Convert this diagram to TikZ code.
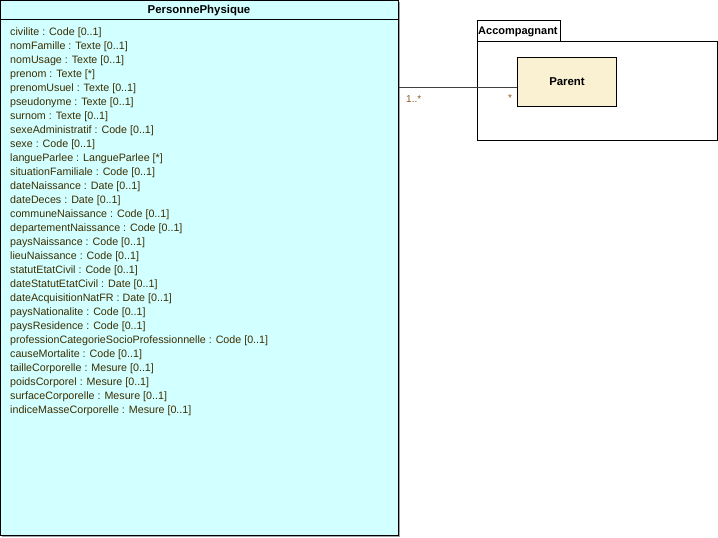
\documentclass[tikz,border=0pt]{standalone}
\usepackage{fontspec}
\setmainfont{Liberation Sans}
\definecolor{classfill}{HTML}{D2FFFF}
\definecolor{rolefill}{HTML}{FAF0D2}
\definecolor{attrtext}{HTML}{3C2E00}
\definecolor{multtext}{HTML}{8A5A20}
\definecolor{shadowgrey}{HTML}{A0A0A0}
\definecolor{linkgrey}{HTML}{404040}
\tikzset{
  x=1pt, y=-1pt,
  attr/.style={anchor=west, inner sep=0pt, text=attrtext, font=\fontsize{10.7}{12}\selectfont},
  mult/.style={anchor=west, inner sep=0pt, text=multtext, font=\fontsize{10}{12}\selectfont},
  title/.style={inner sep=0pt, font=\bfseries\fontsize{11.4}{13}\selectfont},
}
\begin{document}
\begin{tikzpicture}
\useasboundingbox (0,0) rectangle (718,538);
% class box with drop shadow
\fill[shadowgrey] (2,2) rectangle (400,537);
\draw[fill=classfill, line width=1pt] (0.5,0.5) rectangle (398,535);
\draw[line width=1pt] (0.5,19) -- (398,19);
\node[title] (pp) at (199,10.5) {PersonnePhysique};
% attributes
\foreach \t [count=\i from 0] in {
  civilite : Code [0..1],
  nomFamille : Texte [0..1],
  nomUsage : Texte [0..1],
  prenom : Texte [*],
  prenomUsuel : Texte [0..1],
  pseudonyme : Texte [0..1],
  surnom : Texte [0..1],
  sexeAdministratif : Code [0..1],
  sexe : Code [0..1],
  langueParlee : LangueParlee [*],
  situationFamiliale : Code [0..1],
  dateNaissance : Date [0..1],
  dateDeces : Date [0..1],
  communeNaissance : Code [0..1],
  departementNaissance : Code [0..1],
  paysNaissance : Code [0..1],
  lieuNaissance : Code [0..1],
  statutEtatCivil : Code [0..1],
  dateStatutEtatCivil : Date [0..1],
  dateAcquisitionNatFR : Date [0..1],
  paysNationalite : Code [0..1],
  paysResidence : Code [0..1],
  professionCategorieSocioProfessionnelle : Code [0..1],
  causeMortalite : Code [0..1],
  tailleCorporelle : Mesure [0..1],
  poidsCorporel : Mesure [0..1],
  surfaceCorporelle : Mesure [0..1],
  indiceMasseCorporelle : Mesure [0..1]}
  \node[attr] (a\i) at (10,{32.5+14*\i}) {\t};
% package Accompagnant
\draw[line width=1pt] (477.5,20.5) rectangle (560,41);
\node[title, font=\bfseries\fontsize{11}{13}\selectfont, anchor=west] (acc) at (478,32) {Accompagnant};
\draw[line width=1pt] (477.5,41) rectangle (717,140);
% role class Parent
\node[draw, line width=1pt, fill=rolefill, minimum width=99pt, minimum height=49pt, inner sep=0pt,
      font=\bfseries\fontsize{11.4}{13}\selectfont] (parent) at (567,82) {Parent};
% association
\coordinate (pe) at (399,87);
\draw[linkgrey, line width=1pt] (pe) -- (parent.west |- pe);
\node[mult] (m1) at (406,99.5) {1..*};
\node[mult] (m2) at (508,98.5) {*};
\end{tikzpicture}
\end{document}
